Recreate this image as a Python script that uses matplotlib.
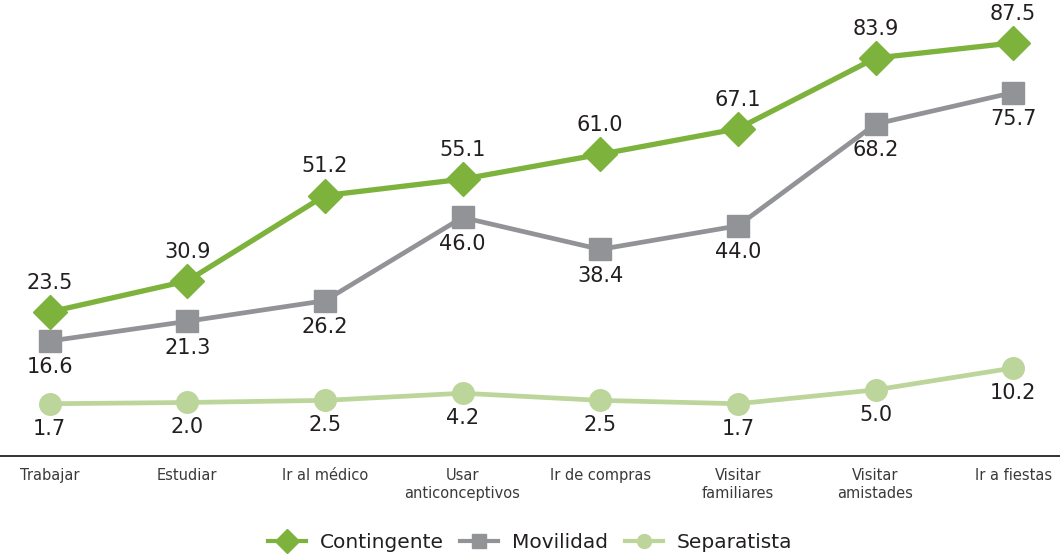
import matplotlib.pyplot as plt
from matplotlib.lines import Line2D

categories = ['Trabajar', 'Estudiar', 'Ir al médico', 'Usar\nanticonceptivos',
              'Ir de compras', 'Visitar\nfamiliares', 'Visitar\namistades', 'Ir a fiestas']
contingente = [23.5, 30.9, 51.2, 55.1, 61.0, 67.1, 83.9, 87.5]
movilidad = [16.6, 21.3, 26.2, 46.0, 38.4, 44.0, 68.2, 75.7]
separatista = [1.7, 2.0, 2.5, 4.2, 2.5, 1.7, 5.0, 10.2]

green = '#7db23c'
gray = '#929397'
light = '#bcd59a'
text_color = '#231f20'

fig = plt.figure(figsize=(10.6, 5.58), dpi=100)
ax = fig.add_axes([0, 0.183, 1, 0.817])
x = list(range(len(categories)))

ax.plot(x, separatista, color=light, lw=3.4, marker='o', ms=15.5, zorder=2)
ax.plot(x, movilidad, color=gray, lw=3.4, marker='s', ms=15.5, zorder=3)
ax.plot(x, contingente, color=green, lw=3.8, marker='D', ms=17, zorder=4)

# value labels
for i, v in enumerate(contingente):
    ax.annotate(f'{v:.1f}', (i, v), xytext=(0, 21), textcoords='offset points',
                ha='center', va='center', fontsize=15, color=text_color)
for i, v in enumerate(movilidad):
    ax.annotate(f'{v:.1f}', (i, v), xytext=(0, -19), textcoords='offset points',
                ha='center', va='center', fontsize=15, color=text_color)
for i, v in enumerate(separatista):
    ax.annotate(f'{v:.1f}', (i, v), xytext=(0, -18), textcoords='offset points',
                ha='center', va='center', fontsize=15, color=text_color)

ax.set_xlim(-0.36, 7.34)
ax.set_ylim(-10.7, 97.7)
ax.set_xticks(x)
ax.set_xticklabels(categories, fontsize=10.5, color='#3a3a3a', linespacing=1.25)
ax.tick_params(axis='x', length=0, pad=9)
ax.set_yticks([])
for s in ['top', 'left', 'right']:
    ax.spines[s].set_visible(False)
ax.spines['bottom'].set_color('#222222')
ax.spines['bottom'].set_linewidth(1.3)
ax.patch.set_alpha(0)

handles = [
    Line2D([], [], color=green, lw=3, marker='D', ms=12, label='Contingente'),
    Line2D([], [], color=gray, lw=3, marker='s', ms=10, label='Movilidad'),
    Line2D([], [], color=light, lw=3, marker='o', ms=10, label='Separatista'),
]
fig.legend(handles=handles, loc='center', bbox_to_anchor=(0.5, 0.027), ncol=3,
           frameon=False, fontsize=14.5, handlelength=1.9, columnspacing=0.8,
           handletextpad=0.7, labelcolor=text_color)

fig.savefig('out.png', dpi=100)
